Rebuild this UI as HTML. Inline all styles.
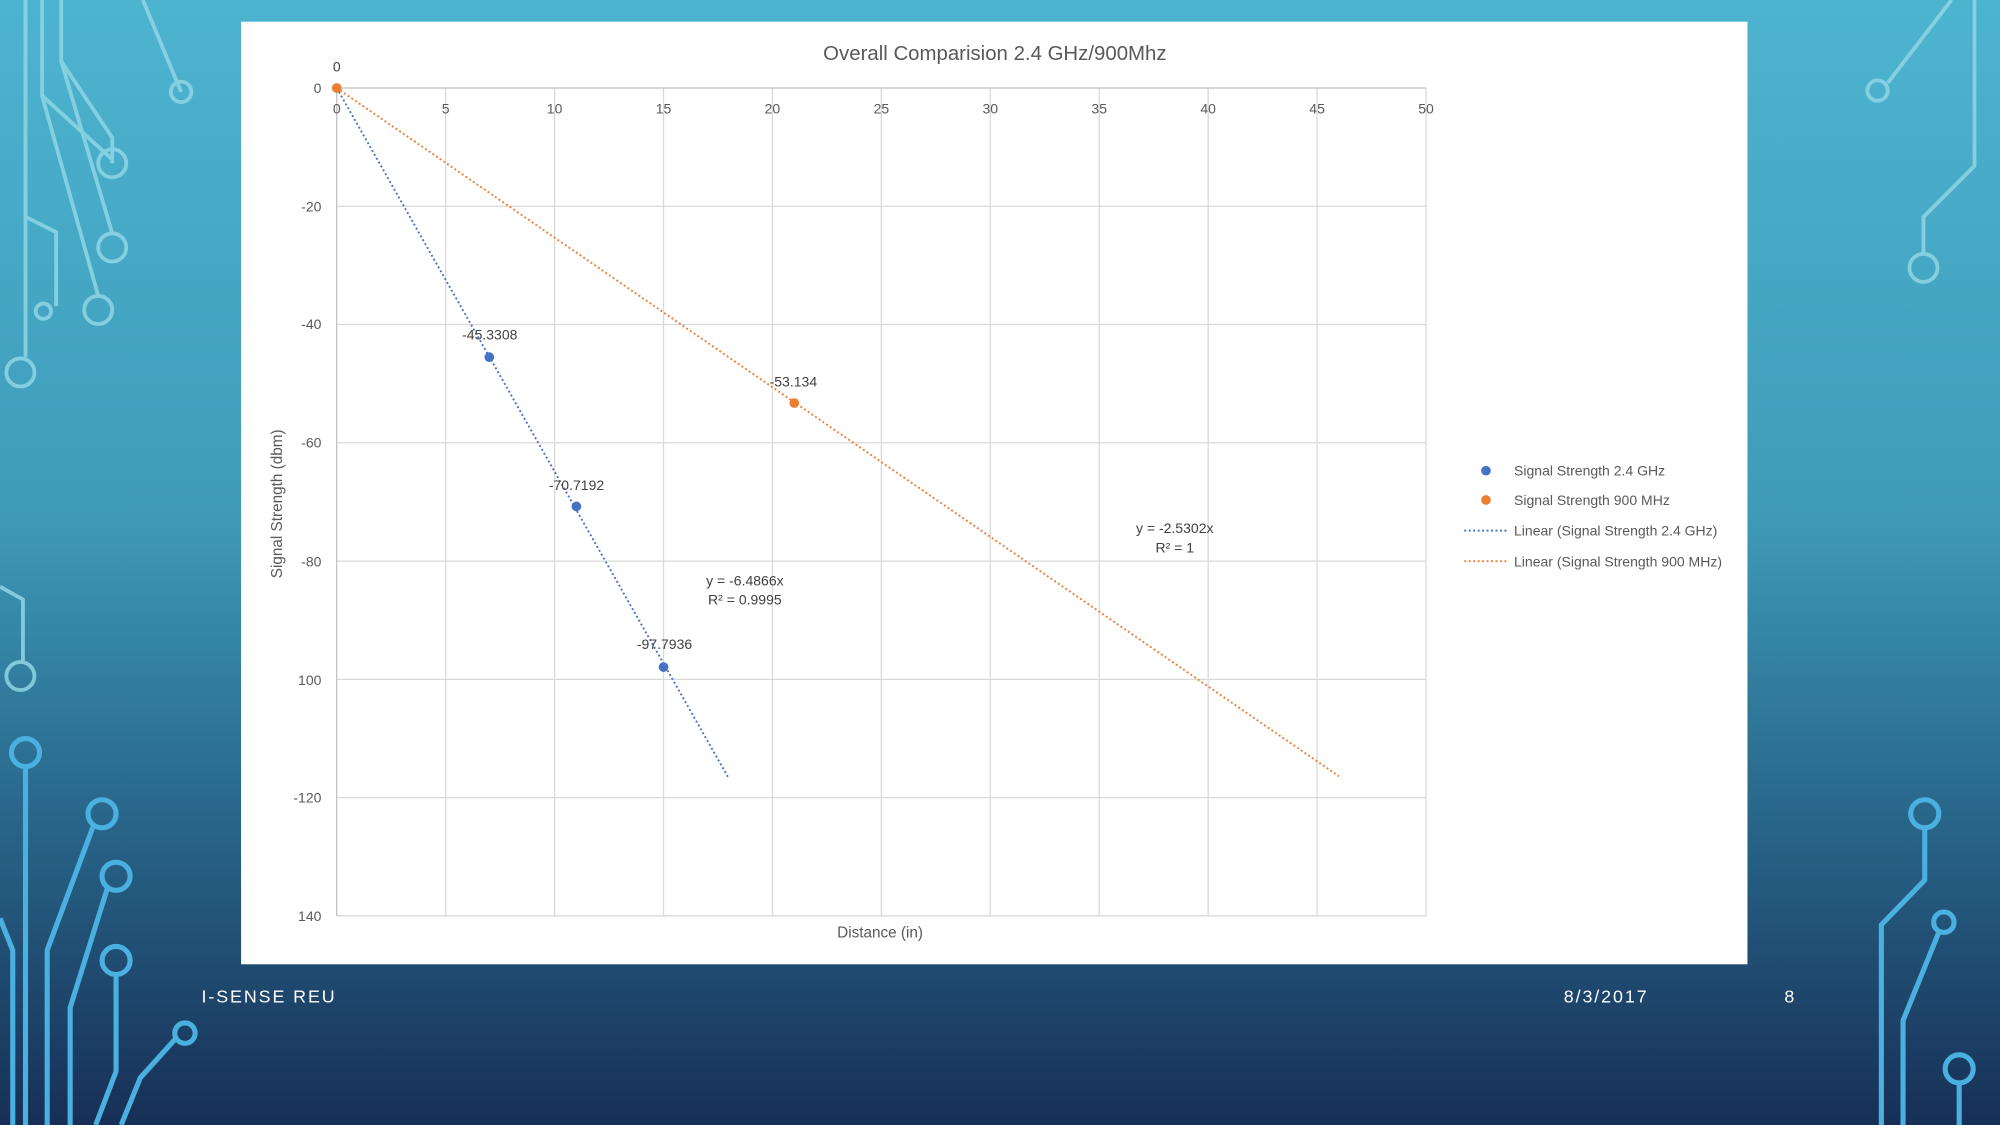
<!DOCTYPE html>
<html><head><meta charset="utf-8"><style>
html,body{margin:0;padding:0;overflow:hidden;}
svg{display:block;}
</style></head><body>
<svg width="2000" height="1125" viewBox="0 0 1568 882" xmlns="http://www.w3.org/2000/svg" font-family="'Liberation Sans', sans-serif">
<defs>
<linearGradient id="bg" x1="0" y1="0" x2="0" y2="1">
<stop offset="0" stop-color="#4db4d0"/>
<stop offset="0.45" stop-color="#3f9cb9"/>
<stop offset="0.7" stop-color="#2a6b8f"/>
<stop offset="1" stop-color="#172f56"/>
</linearGradient>
</defs>
<rect width="1568" height="882" fill="url(#bg)"/>
<g fill="none" stroke="#8fd6e6" stroke-width="3" opacity="0.85">
<path d="M20 0V170M33 0V75L88 125M48 0V48L88 108V128"/>
<circle cx="88" cy="128" r="11"/><circle cx="88" cy="194" r="11"/><circle cx="77" cy="243" r="11"/><circle cx="16" cy="292" r="11"/>
<path d="M20 0V280M33 75L77 232M48 48L88 183M112 0L142 72"/><circle cx="142" cy="72" r="8"/>
<path d="M20 170L44 182V240"/><circle cx="34" cy="244" r="6"/>
<path d="M0 460L18 470V518"/><circle cx="16" cy="530" r="11"/>
</g>
<g fill="none" stroke="#4ab0e0" stroke-width="4">
<circle cx="20" cy="590" r="11"/><path d="M20 601V882"/>
<circle cx="80" cy="638" r="11"/><path d="M73 648L37 745V882"/>
<circle cx="91" cy="687" r="11"/><path d="M84 697L55 790V882"/>
<circle cx="91" cy="753" r="11"/><path d="M91 764V840L75 882"/>
<circle cx="145" cy="810" r="8"/><path d="M138 814L110 845L95 882"/>
<path d="M0 720L10 745V882"/>
</g>
<g fill="none" stroke="#8fd6e6" stroke-width="3" opacity="0.85">
<path d="M1530 0L1480 65"/><circle cx="1472" cy="71" r="8"/>
<path d="M1548 0V130L1508 170V198"/><circle cx="1508" cy="210" r="11"/>
</g>
<g fill="none" stroke="#4ab0e0" stroke-width="4">
<circle cx="1509" cy="638" r="11"/><path d="M1509 649V690L1475 725V882"/>
<circle cx="1524" cy="723" r="8"/><path d="M1520 731L1492 800V882"/>
<circle cx="1536" cy="838" r="11"/><path d="M1536 849V882"/>
</g>
<rect x="189" y="17" width="1181" height="739" fill="#fff"/>
<text x="780" y="47" font-size="16" fill="#595959" text-anchor="middle">Overall Comparision 2.4 GHz/900Mhz</text>
<g stroke="#d9d9d9" stroke-width="1">
<line x1="264" y1="161.7" x2="1118" y2="161.7"/><line x1="264" y1="254.4" x2="1118" y2="254.4"/>
<line x1="264" y1="347.1" x2="1118" y2="347.1"/><line x1="264" y1="439.9" x2="1118" y2="439.9"/>
<line x1="264" y1="532.6" x2="1118" y2="532.6"/><line x1="264" y1="625.3" x2="1118" y2="625.3"/>
<line x1="264" y1="718" x2="1118" y2="718"/>
<line x1="349.4" y1="69" x2="349.4" y2="718"/><line x1="434.8" y1="69" x2="434.8" y2="718"/>
<line x1="520.2" y1="69" x2="520.2" y2="718"/><line x1="605.6" y1="69" x2="605.6" y2="718"/>
<line x1="691" y1="69" x2="691" y2="718"/><line x1="776.4" y1="69" x2="776.4" y2="718"/>
<line x1="861.8" y1="69" x2="861.8" y2="718"/><line x1="947.2" y1="69" x2="947.2" y2="718"/>
<line x1="1032.6" y1="69" x2="1032.6" y2="718"/><line x1="1118" y1="69" x2="1118" y2="718"/>
</g>
<g stroke="#bfbfbf" stroke-width="1"><line x1="264" y1="69" x2="1118" y2="69"/><line x1="264" y1="69" x2="264" y2="718"/></g>
<g font-size="11" fill="#595959" text-anchor="middle">
<text x="264" y="89">0</text><text x="349.4" y="89">5</text><text x="434.8" y="89">10</text><text x="520.2" y="89">15</text><text x="605.6" y="89">20</text><text x="691" y="89">25</text><text x="776.4" y="89">30</text><text x="861.8" y="89">35</text><text x="947.2" y="89">40</text><text x="1032.6" y="89">45</text><text x="1118" y="89">50</text>
</g>
<g font-size="11" fill="#595959" text-anchor="end">
<text x="252" y="73">0</text><text x="252" y="166">-20</text><text x="252" y="258">-40</text><text x="252" y="351">-60</text><text x="252" y="444">-80</text><text x="252" y="537">100</text><text x="252" y="629">-120</text><text x="252" y="722">140</text>
</g>
<text x="221" y="395" font-size="12" fill="#595959" text-anchor="middle" transform="rotate(-90 221 395)">Signal Strength (dbm)</text>
<text x="690" y="735" font-size="12" fill="#595959" text-anchor="middle">Distance (in)</text>
<line x1="264" y1="69" x2="571.4" y2="610.3" stroke="#4472c4" stroke-width="1.5" stroke-dasharray="1.5 2"/>
<line x1="264" y1="69" x2="1049.7" y2="608.6" stroke="#ed7d31" stroke-width="1.5" stroke-dasharray="1.5 2"/>
<g fill="#4472c4"><circle cx="383.6" cy="280" r="3.8"/><circle cx="451.9" cy="397" r="3.8"/><circle cx="520.2" cy="523" r="3.8"/></g>
<g fill="#ed7d31"><circle cx="264" cy="69" r="3.8"/><circle cx="622.7" cy="316" r="3.8"/></g>
<g font-size="11" fill="#404040" text-anchor="middle">
<text x="264" y="56">0</text><text x="384" y="266">-45.3308</text><text x="452" y="384">-70.7192</text><text x="521" y="509">-97.7936</text><text x="622" y="303">-53.134</text>
<text x="584" y="459">y = -6.4866x</text><text x="584" y="474">R² = 0.9995</text>
<text x="921" y="418">y = -2.5302x</text><text x="921" y="433">R² = 1</text>
</g>
<g font-size="11" fill="#595959">
<circle cx="1165" cy="369" r="3.8" fill="#4472c4"/><text x="1187" y="373">Signal Strength 2.4 GHz</text>
<circle cx="1165" cy="392" r="3.8" fill="#ed7d31"/><text x="1187" y="396">Signal Strength 900 MHz</text>
<line x1="1148" y1="416" x2="1182" y2="416" stroke="#4472c4" stroke-width="1.5" stroke-dasharray="1.5 2"/><text x="1187" y="420">Linear (Signal Strength 2.4 GHz)</text>
<line x1="1148" y1="440" x2="1182" y2="440" stroke="#ed7d31" stroke-width="1.5" stroke-dasharray="1.5 2"/><text x="1187" y="444">Linear (Signal Strength 900 MHz)</text>
</g>
<g font-size="14" fill="#fff" letter-spacing="1.5">
<text x="158" y="786">I-SENSE REU</text><text x="1226" y="786">8/3/2017</text><text x="1399" y="786">8</text>
</g>
</svg>
</body></html>
